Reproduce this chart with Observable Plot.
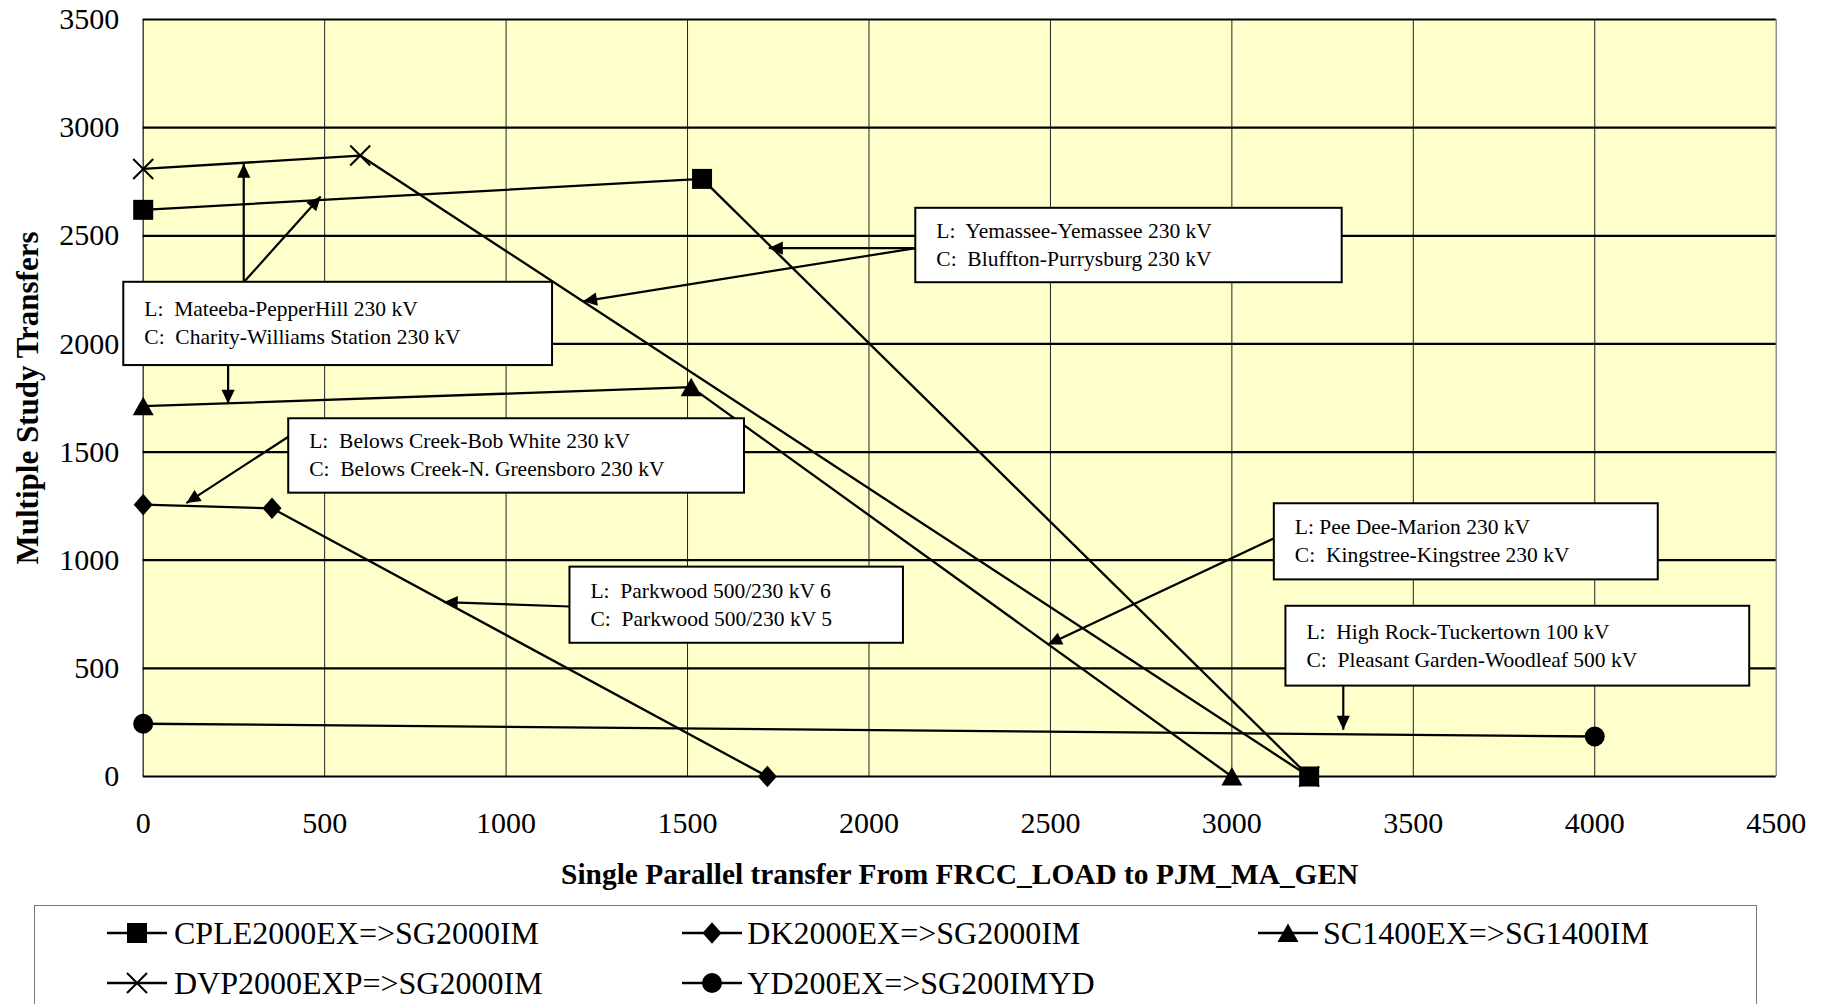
<!DOCTYPE html>
<html><head><meta charset="utf-8">
<script src="https://cdn.jsdelivr.net/npm/d3@7"></script>
<script src="https://cdn.jsdelivr.net/npm/@observablehq/plot@0.6"></script>
<style>
html,body{margin:0;padding:0;background:#fff;overflow:hidden;width:1830px;height:1004px;}
body{font-family:"Liberation Serif","Times New Roman",serif;position:relative;}
#chart{position:absolute;left:0;top:0;}
#chart svg text{white-space:pre;}
#legendbox{position:absolute;left:34.3px;top:905.3px;width:1723px;height:200px;border:1.5px solid #7a7a7a;box-sizing:border-box;background:#fff;}
.legtxt{position:absolute;font-size:32px;line-height:40px;color:#000;white-space:nowrap;}
.legsym{position:absolute;}
</style></head><body>
<div id="chart"></div>
<div id="legendbox"></div>
<script>
// ---------- data ----------
const xTicks = [0, 500, 1000, 1500, 2000, 2500, 3000, 3500, 4000, 4500];
const xTickLabels = ["0", "500", "1000", "1500", "2000", "2500", "3000", "3500", "4000", "4500"];
const yTicks = [0, 500, 1000, 1500, 2000, 2500, 3000, 3500];
const yTickLabels = ["0", "500", "1000", "1500", "2000", "2500", "3000", "3500"];

const seriesNames = ["CPLE2000EX=>SG2000IM", "DK2000EX=>SG2000IM", "SC1400EX=>SG1400IM", "DVP2000EXP=>SG2000IM", "YD200EX=>SG200IMYD"];
const cpleX = [0, 1540, 3213];
const cpleY = [2620, 2763, 0];
const dkX = [0, 355, 1720];
const dkY = [1257, 1240, 0];
const scX = [0, 1510, 3000];
const scY = [1712, 1800, 0];
const dvpX = [0, 598, 3213];
const dvpY = [2809, 2871, 0];
const ydX = [0, 4000];
const ydY = [244, 185];

const xTitle = "Single Parallel transfer From FRCC_LOAD to PJM_MA_GEN";
const yTitle = "Multiple Study Transfers";

// annotation boxes (data units)
const boxLines = [
  ["L:  Mateeba-PepperHill 230 kV", "C:  Charity-Williams Station 230 kV"],
  ["L:  Yemassee-Yemassee 230 kV", "C:  Bluffton-Purrysburg 230 kV"],
  ["L:  Belows Creek-Bob White 230 kV", "C:  Belows Creek-N. Greensboro 230 kV"],
  ["L:  Parkwood 500/230 kV 6", "C:  Parkwood 500/230 kV 5"],
  ["L: Pee Dee-Marion 230 kV", "C:  Kingstree-Kingstree 230 kV"],
  ["L:  High Rock-Tuckertown 100 kV", "C:  Pleasant Garden-Woodleaf 500 kV"]
];
const boxX1 = [-53.5, 2129, 401, 1176, 3117, 3149];
const boxX2 = [1128, 3304, 1657, 2095, 4175, 4427];
const boxYTop = [2285, 2627, 1654, 968, 1261, 787];
const boxYBot = [1900, 2283, 1310, 616, 909, 418];

// arrows: from (x1,y1) to tip (x2,y2)
const arrowX1 = [277, 277, 234, 2129, 2129, 401, 1176, 3117, 3307];
const arrowY1 = [2285, 2285, 1900, 2443, 2443, 1572, 786, 1102, 418];
const arrowX2 = [277, 489, 234, 1724, 1212, 119, 828, 2493, 3307];
const arrowY2 = [2833, 2682, 1723, 2443, 2197, 1264, 806, 610, 216];

// ---------- layout ----------
const W = 1830, H = 906, ML = 142.7, MR = 54.3, MT = 19, MB = 130;

// ---------- symbols ----------
const rOf = (size) => Math.sqrt(size / Math.PI);
const symSquare = {draw(c, size) { const s = rOf(size); c.moveTo(-s, -s); c.lineTo(s, -s); c.lineTo(s, s); c.lineTo(-s, s); c.closePath(); }};
const symDiamond = {draw(c, size) { const s = rOf(size); c.moveTo(0, -1.08 * s); c.lineTo(0.95 * s, 0); c.lineTo(0, 1.08 * s); c.lineTo(-0.95 * s, 0); c.closePath(); }};
const symTriangle = {draw(c, size) { const s = rOf(size); c.moveTo(0, -0.95 * s); c.lineTo(1.05 * s, 0.9 * s); c.lineTo(-1.05 * s, 0.9 * s); c.closePath(); }};
const symTimes = {draw(c, size) { const s = rOf(size); c.moveTo(-s, -s); c.lineTo(s, s); c.moveTo(s, -s); c.lineTo(-s, s); }};
const symCircle = {draw(c, size) { const s = rOf(size); c.moveTo(s, 0); c.arc(0, 0, s, 0, 2 * Math.PI); c.closePath(); }};

const series = [
  {name: seriesNames[0], xs: cpleX, ys: cpleY, symbol: symSquare, filled: true},
  {name: seriesNames[1], xs: dkX, ys: dkY, symbol: symDiamond, filled: true},
  {name: seriesNames[2], xs: scX, ys: scY, symbol: symTriangle, filled: true},
  {name: seriesNames[3], xs: dvpX, ys: dvpY, symbol: symTimes, filled: false},
  {name: seriesNames[4], xs: ydX, ys: ydY, symbol: symCircle, filled: true}
];
const rows = series.flatMap(s => s.xs.map((x, i) => ({name: s.name, x, y: s.ys[i]})));

const boxes = boxLines.map((lines, i) => ({lines, x1: boxX1[i], x2: boxX2[i], y1: boxYTop[i], y2: boxYBot[i]}));
const arrows = arrowX1.map((x1, i) => ({x1, y1: arrowY1[i], x2: arrowX2[i], y2: arrowY2[i]}));

// pixel-space direction of arrows (for arrow heads), via the library's scale
let sx, sy;
try {
  const px = Plot.scale({x: {domain: [0, 4500], range: [ML, W - MR]}});
  const py = Plot.scale({y: {domain: [0, 3500], range: [H - MB, MT]}});
  sx = v => px.apply(v); sy = v => py.apply(v);
} catch (e) {
  const a = d3.scaleLinear([0, 4500], [ML, W - MR]), b = d3.scaleLinear([0, 3500], [H - MB, MT]);
  sx = a; sy = b;
}
function headSymbol(a) {
  const dx = sx(a.x2) - sx(a.x1), dy = sy(a.y2) - sy(a.y1);
  const len = Math.hypot(dx, dy) || 1;
  const ux = dx / len, uy = dy / len;
  const L = 14, hw = 6.6;
  return {draw(c) {
    const bx = -L * ux, by = -L * uy;
    c.moveTo(0, 0);
    c.lineTo(bx - hw * uy, by + hw * ux);
    c.lineTo(bx + hw * uy, by - hw * ux);
    c.closePath();
  }};
}

const chart = Plot.plot({
  width: W, height: H,
  marginLeft: ML, marginRight: MR, marginTop: MT, marginBottom: MB,
  style: {fontFamily: "'Liberation Serif', 'Times New Roman', serif", fontSize: "30px", background: "transparent", overflow: "visible", color: "black"},
  x: {domain: [0, 4500], ticks: xTicks, tickSize: 0, tickPadding: 35, tickFormat: d => xTickLabels[xTicks.indexOf(d)], label: null},
  y: {domain: [0, 3500], ticks: yTicks, tickSize: 0, tickPadding: 24, tickFormat: d => yTickLabels[yTicks.indexOf(d)], label: null},
  marks: [
    Plot.frame({fill: "#ffffcc", stroke: "none"}),
    Plot.ruleX(xTicks.filter(d => d > 0 && d < 4500), {stroke: "#222", strokeWidth: 1}),
    Plot.ruleX([0], {stroke: "#333", strokeWidth: 1.4}),
    Plot.ruleX([4500], {stroke: "#777", strokeWidth: 1.2}),
    Plot.ruleY(yTicks, {stroke: "black", strokeWidth: 2.2}),
    Plot.line(rows, {x: "x", y: "y", z: "name", stroke: "black", strokeWidth: 2.3}),
    ...series.map(s => Plot.dot(rows.filter(r => r.name === s.name), {
      x: "x", y: "y", r: 10, symbol: s.symbol,
      fill: s.filled ? "black" : "none", stroke: s.filled ? "none" : "black", strokeWidth: 2
    })),
    Plot.link(arrows, {x1: "x1", y1: "y1", x2: "x2", y2: "y2", stroke: "black", strokeWidth: 2.2}),
    ...arrows.map(a => Plot.dot([a], {x: "x2", y: "y2", r: 7, symbol: headSymbol(a), fill: "black", stroke: "none"})),
    Plot.rect(boxes, {x1: "x1", x2: "x2", y1: "y1", y2: "y2", fill: "white", stroke: "black", strokeWidth: 2}),
    Plot.text(boxes, {x: "x1", y: d => (d.y1 + d.y2) / 2, text: d => d.lines.join("\n"), textAnchor: "start", lineAnchor: "middle", lineHeight: 1.3, dx: 20.5, dy: -2.5, fontSize: 21.5, fill: "black"}),
    Plot.text([xTitle], {text: d => d, frameAnchor: "bottom", dy: 107, dx: 0, fontWeight: "bold", fontSize: 29.4, fill: "black"}),
    Plot.text([yTitle], {text: d => d, frameAnchor: "left", dx: -114.7, rotate: -90, textAnchor: "middle", fontWeight: "bold", fontSize: 31, fill: "black"})
  ]
});
document.getElementById("chart").append(chart);

// ---------- legend (HTML below the SVG) ----------
const legLineLeft = [107.3, 681.7, 1257.5];
const legTextLeft = [174, 747.3, 1323];
const legRowCenter = [932.5, 983];
series.forEach((s, i) => {
  const row = i < 3 ? 0 : 1, col = i % 3;
  const p = d3.path();
  s.symbol.draw(p, Math.PI * 100);
  const ns = "http://www.w3.org/2000/svg";
  const svg = document.createElementNS(ns, "svg");
  svg.setAttribute("width", 60); svg.setAttribute("height", 26);
  svg.setAttribute("class", "legsym");
  svg.style.left = legLineLeft[col] + "px";
  svg.style.top = (legRowCenter[row] - 13) + "px";
  svg.innerHTML = `<line x1="0" x2="60" y1="13" y2="13" stroke="black" stroke-width="2.5"/>` +
    `<path transform="translate(30,13)" d="${p.toString()}" fill="${s.filled ? "black" : "none"}" stroke="${s.filled ? "none" : "black"}" stroke-width="2"/>`;
  document.body.append(svg);
  const t = document.createElement("div");
  t.className = "legtxt";
  t.textContent = s.name;
  t.style.left = legTextLeft[col] + "px";
  t.style.top = (legRowCenter[row] - 20) + "px";
  document.body.append(t);
});
</script></body></html>
